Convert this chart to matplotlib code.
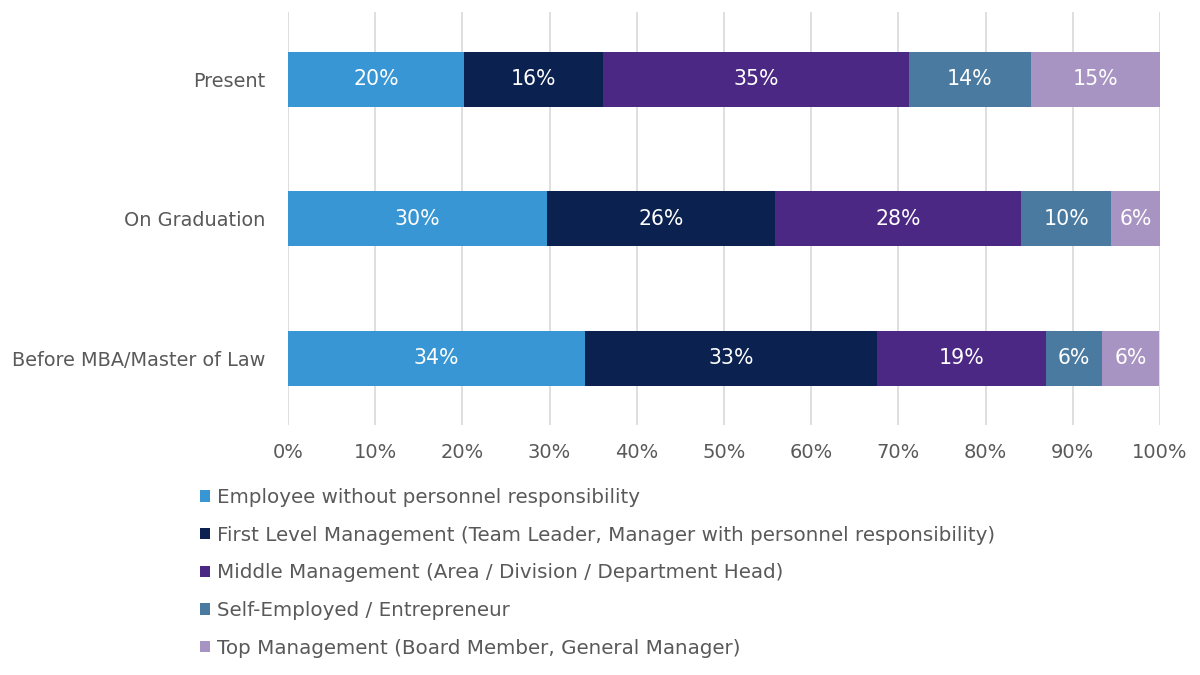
import matplotlib
matplotlib.use("Agg")
import matplotlib.pyplot as plt
from matplotlib.patches import Patch

plt.rcParams['font.family'] = ['DejaVu Sans']

categories = ["Before MBA/Master of Law", "On Graduation", "Present"]
series_names = [
    "Employee without personnel responsibility",
    "First Level Management (Team Leader, Manager with personnel responsibility)",
    "Middle Management (Area / Division / Department Head)",
    "Self-Employed / Entrepreneur",
    "Top Management (Board Member, General Manager)",
]
# values per series, ordered as categories (Before, On Graduation, Present)
employee = [34.1, 29.7, 20.2]
first_level = [33.4, 26.1, 15.9]
middle = [19.4, 28.3, 35.1]
self_employed = [6.4, 10.3, 14.0]
top = [6.6, 5.6, 14.8]
bar_labels = [
    ["34%", "30%", "20%"],
    ["33%", "26%", "16%"],
    ["19%", "28%", "35%"],
    ["6%", "10%", "14%"],
    ["6%", "6%", "15%"],
]
colors = ["#3796d3", "#0b2150", "#4b2883", "#4a7aa0", "#a894c2"]
xticks = [0, 10, 20, 30, 40, 50, 60, 70, 80, 90, 100]

series = [employee, first_level, middle, self_employed, top]
text_color = "#595959"

fig = plt.figure(figsize=(12, 6.75), dpi=100)
ax = fig.add_axes([0.24, 0.3704, 0.7267, 0.6118])

ypos = list(range(len(categories)))
left = [0.0] * len(categories)
for vals, col, labs in zip(series, colors, bar_labels):
    bars = ax.barh(ypos, vals, left=left, height=0.394, color=col, zorder=3)
    ax.bar_label(bars, labels=labs, label_type='center', color='white', fontsize=14.8)
    left = [l + v for l, v in zip(left, vals)]

ax.set_xlim(0, 100)
ax.set_ylim(-0.478, 2.484)
ax.set_xticks(xticks)
ax.set_xticklabels([f"{t}%" for t in xticks])
ax.set_yticks(ypos)
ax.set_yticklabels(categories)
ax.tick_params(axis='x', length=0, pad=13, labelsize=14, labelcolor=text_color)
ax.tick_params(axis='y', length=0, pad=16, labelsize=13.9, labelcolor=text_color)
ax.grid(axis='x', color='#d9d9d9', linewidth=1.2, zorder=0)
for s in ax.spines.values():
    s.set_visible(False)

handles = [Patch(facecolor=c, edgecolor='none') for c in colors]
leg = fig.legend(handles, series_names, loc='upper left', bbox_to_anchor=(0.1667, 0.277),
                 frameon=False, fontsize=14.3, handlelength=0.5, handleheight=0.5,
                 handletextpad=0.35, labelspacing=0.94, borderaxespad=0, borderpad=0)
for t in leg.get_texts():
    t.set_color(text_color)

fig.savefig("out.png", dpi=100)
